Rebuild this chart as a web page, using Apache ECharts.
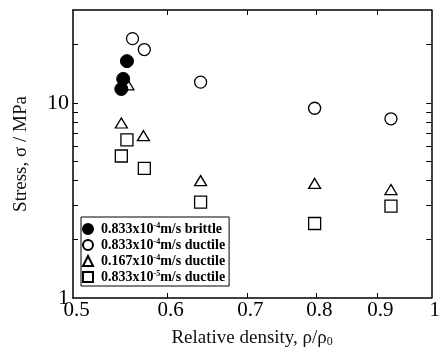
<!DOCTYPE html>
<html>
<head>
<meta charset="utf-8">
<script src="https://cdn.jsdelivr.net/npm/echarts@6/dist/echarts.min.js"></script>
<style>
  html, body { margin: 0; padding: 0; background: #fff; }
  #chart { width: 443px; height: 354px; }
</style>
</head>
<body>
<div id="chart"></div>
<script>
// data
const brittleX = [0.555, 0.551, 0.549];
const brittleY = [16.4, 13.3, 11.8];
const ductileAX = [0.561, 0.574, 0.640, 0.798, 0.925];
const ductileAY = [21.4, 18.8, 12.8, 9.4, 8.3];
const ductileBX = [0.556, 0.549, 0.573, 0.640, 0.798, 0.925];
const ductileBY = [12.4, 7.9, 6.8, 4.0, 3.87, 3.6];
const ductileCX = [0.555, 0.549, 0.574, 0.640, 0.798, 0.925];
const ductileCY = [6.47, 5.35, 4.62, 3.10, 2.41, 2.96];

const seriesNames = ['brittle A', 'ductile A', 'ductile B', 'ductile C'];
const legendLabels = [
    '0.833x10{sup|-4}m/s brittle',
    '0.833x10{sup|-4}m/s ductile',
    '0.167x10{sup|-4}m/s ductile',
    '0.833x10{sup|-5}m/s ductile'
];
const xTickValues = [0.6, 0.7, 0.8, 0.9];
const xLabelValues = [0.5, 0.6, 0.7, 0.8, 0.9, 1];
const yTickValues = [2, 3, 4, 5, 6, 7, 8, 9, 10, 20];
const yLabelValues = [1, 10];

const font = 'Liberation Serif';
const pairs = (xs, ys) => xs.map((x, i) => [x, ys[i]]);

const chart = echarts.init(document.getElementById('chart'));

const openStyle = { color: '#fff', borderColor: '#000', borderWidth: 1.3, opacity: 1 };

const baseX = {
    type: 'log',
    logBase: 10,
    min: 0.5,
    max: 1,
    splitLine: { show: false },
    axisLine: { lineStyle: { color: '#000', width: 1.5 } }
};
const baseY = {
    type: 'log',
    logBase: 10,
    min: 1,
    max: 30,
    splitLine: { show: false },
    axisLine: { lineStyle: { color: '#000', width: 1.5 } },
    axisTick: { inside: true, length: 5, customValues: yTickValues, lineStyle: { color: '#000' } }
};

const option = {
    backgroundColor: '#fff',
    animation: false,
    grid: { left: 73, right: 8, top: 10, bottom: 56 },
    xAxis: [
        Object.assign({}, baseX, {
            position: 'bottom',
            axisTick: { inside: true, length: 5, customValues: xTickValues, lineStyle: { color: '#000' } },
            axisLabel: {
                customValues: xLabelValues,
                formatter: v => String(v),
                fontFamily: font,
                fontSize: 21,
                color: '#000',
                margin: 2,
                padding: [0, 0, 0, 7]
            },
            name: 'Relative density, ρ/ρ{sub|0}',
            nameLocation: 'middle',
            nameGap: 31,
            nameTextStyle: {
                fontFamily: font,
                fontSize: 19,
                color: '#111',
                rich: {
                    sub: { fontFamily: font, fontSize: 12, color: '#111', verticalAlign: 'bottom', padding: [7, 0, 0, 0] }
                }
            }
        }),
        Object.assign({}, baseX, {
            position: 'top',
            axisTick: { inside: true, length: 5, customValues: xTickValues, lineStyle: { color: '#000' } },
            axisLabel: { show: false }
        })
    ],
    yAxis: [
        Object.assign({}, baseY, {
            position: 'left',
            axisLabel: {
                customValues: yLabelValues,
                formatter: v => String(v),
                fontFamily: font,
                fontSize: 22,
                color: '#000',
                margin: 4
            },
            name: 'Stress, σ / MPa',
            nameLocation: 'middle',
            nameGap: 42,
            nameTextStyle: { fontFamily: font, fontSize: 19, color: '#111' }
        }),
        Object.assign({}, baseY, {
            position: 'right',
            axisLabel: { show: false }
        })
    ],
    legend: {
        orient: 'vertical',
        left: 81,
        top: 217,
        padding: [5, 4, 2, 1],
        itemGap: 2,
        itemWidth: 10,
        itemHeight: 10,
        borderColor: '#000',
        borderWidth: 1,
        borderRadius: 0,
        backgroundColor: '#fff',
        data: seriesNames,
        formatter: name => legendLabels[seriesNames.indexOf(name)],
        textStyle: {
            fontFamily: font,
            fontSize: 14,
            fontWeight: 'bold',
            color: '#000',
            lineHeight: 14,
            padding: [0, 0, 0, 3],
            rich: {
                sup: { fontFamily: font, fontSize: 8, fontWeight: 'bold', color: '#000', verticalAlign: 'top', lineHeight: 9 }
            }
        }
    },
    series: [
        {
            name: seriesNames[0],
            type: 'scatter',
            symbol: 'circle',
            symbolSize: 13,
            z: 4,
            itemStyle: { color: '#000', borderColor: '#000', borderWidth: 1, opacity: 1 },
            data: pairs(brittleX, brittleY)
        },
        {
            name: seriesNames[1],
            type: 'scatter',
            symbol: 'circle',
            symbolSize: 12,
            z: 3,
            itemStyle: openStyle,
            data: pairs(ductileAX, ductileAY)
        },
        {
            name: seriesNames[2],
            type: 'scatter',
            symbol: 'triangle',
            symbolSize: [12, 10],
            z: 2,
            itemStyle: openStyle,
            data: pairs(ductileBX, ductileBY)
        },
        {
            name: seriesNames[3],
            type: 'scatter',
            symbol: 'rect',
            symbolSize: 12,
            z: 2,
            itemStyle: openStyle,
            data: pairs(ductileCX, ductileCY)
        }
    ]
};

chart.setOption(option);
</script>
</body>
</html>
